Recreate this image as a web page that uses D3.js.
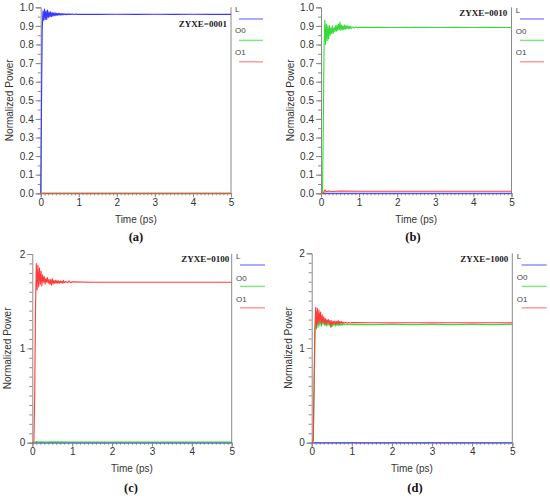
<!DOCTYPE html>
<html><head><meta charset="utf-8">
<script src="https://cdn.jsdelivr.net/npm/d3@7/dist/d3.min.js"></script>
<style>
html,body{margin:0;padding:0;background:#fff;}
svg{display:block;}
</style></head>
<body>
<svg id="chart" width="550" height="501"></svg>
<script>
// ---------- DATA ----------
const seriesNames = ["L", "O0", "O1"];
const xTicks = [0, 1, 2, 3, 4, 5];
const yTicksUnit = [0, 0.1, 0.2, 0.3, 0.4, 0.5, 0.6, 0.7, 0.8, 0.9, 1.0];
const yTicksTwo = [0, 1, 2];
const panelLetters = ["(a)", "(b)", "(c)", "(d)"];
const panelCodes = ["ZYXE=0001", "ZYXE=0010", "ZYXE=0100", "ZYXE=1000"];

const tRing = [0, 0.02, 0.04, 0.06, 0.08, 0.10, 0.12, 0.14, 0.16, 0.18,
  0.20, 0.22, 0.24, 0.26, 0.28, 0.30, 0.32, 0.34, 0.36, 0.38,
  0.40, 0.42, 0.44, 0.46, 0.48, 0.50, 0.52, 0.54, 0.56, 0.58,
  0.60, 0.62, 0.64, 0.66, 0.68, 0.70, 0.72, 0.74, 0.76, 0.78,
  0.80, 0.84, 0.88, 0.92, 0.96, 1.00, 1.5, 2.0, 2.5, 3.0,
  3.5, 4.0, 4.5, 5.0];
const tFlat = [0, 5];
const tLow = [0, 0.06, 0.1, 0.14, 0.2, 0.3, 0.5, 1, 5];

// (a) ZYXE=0001
const L_a = [0, 0.45, 0.88, 0.98, 0.93, 0.99, 0.935, 0.98, 0.935, 0.985,
  0.945, 0.975, 0.948, 0.976, 0.95, 0.972, 0.952, 0.97, 0.955, 0.97,
  0.955, 0.968, 0.957, 0.968, 0.958, 0.967, 0.958, 0.966, 0.959, 0.966,
  0.96, 0.965, 0.96, 0.965, 0.96, 0.965, 0.961, 0.964, 0.961, 0.964,
  0.962, 0.964, 0.961, 0.964, 0.962, 0.963, 0.962, 0.963, 0.962, 0.963,
  0.962, 0.963, 0.962, 0.962];
const O0_a = [0, 0];
const O1_a = [0, 0];

// (b) ZYXE=0010
const L_b = [0, 0];
const O0_b = [0, 0, 0, 0.35, 0.78, 0.93, 0.80, 0.91, 0.82, 0.90,
  0.83, 0.90, 0.85, 0.89, 0.86, 0.90, 0.86, 0.89, 0.87, 0.90,
  0.87, 0.905, 0.875, 0.91, 0.88, 0.92, 0.875, 0.905, 0.88, 0.90,
  0.88, 0.905, 0.882, 0.90, 0.884, 0.90, 0.885, 0.898, 0.886, 0.897,
  0.887, 0.895, 0.889, 0.894, 0.89, 0.893, 0.892, 0.891, 0.892, 0.891,
  0.892, 0.891, 0.892, 0.891];
const O1_b = [0, 0, 0.018, 0.008, 0.012, 0.01, 0.012, 0.011, 0.011];

// (c) ZYXE=0100
const L_c = [0, 0];
const O0_c = [0, 0, 0.012, 0.006, 0.01, 0.008, 0.009, 0.008, 0.008];
const O1_c = [0, 0, 0, 0.5, 1.4, 1.9, 1.62, 1.88, 1.65, 1.85,
  1.68, 1.82, 1.66, 1.78, 1.70, 1.76, 1.68, 1.74, 1.70, 1.75,
  1.69, 1.73, 1.68, 1.73, 1.67, 1.74, 1.68, 1.72, 1.69, 1.72,
  1.69, 1.72, 1.69, 1.715, 1.69, 1.715, 1.695, 1.71, 1.69, 1.72,
  1.695, 1.71, 1.695, 1.715, 1.695, 1.705, 1.70, 1.70, 1.70, 1.70,
  1.70, 1.70, 1.70, 1.70];

// (d) ZYXE=1000
const L_d = [0, 0];
const O0_d = [0, 0, 0.02, 0.5, 1.1, 1.38, 1.2, 1.38, 1.22, 1.36,
  1.24, 1.34, 1.23, 1.32, 1.25, 1.30, 1.24, 1.29, 1.23, 1.28,
  1.24, 1.28, 1.24, 1.27, 1.22, 1.27, 1.23, 1.265, 1.24, 1.26,
  1.23, 1.265, 1.24, 1.26, 1.235, 1.26, 1.24, 1.255, 1.242, 1.255,
  1.245, 1.252, 1.245, 1.25, 1.246, 1.249, 1.247, 1.248, 1.247, 1.248,
  1.247, 1.248, 1.247, 1.248];
const O1_d = [0, 0, 0.05, 0.7, 1.2, 1.43, 1.22, 1.42, 1.25, 1.40,
  1.28, 1.38, 1.25, 1.35, 1.27, 1.33, 1.26, 1.31, 1.25, 1.30,
  1.27, 1.30, 1.26, 1.29, 1.22, 1.29, 1.25, 1.28, 1.26, 1.285,
  1.25, 1.28, 1.26, 1.29, 1.25, 1.28, 1.26, 1.28, 1.26, 1.275,
  1.262, 1.272, 1.262, 1.27, 1.263, 1.268, 1.266, 1.265, 1.266, 1.265,
  1.266, 1.265, 1.266, 1.265];

// ---------- LAYOUT / STYLE ----------
const lineColors = {L: "#3838ff", O0: "#38dc38", O1: "#ff3c3c"};
const legendColors = {L: "#9090ff", O0: "#7ee87e", O1: "#ff9a9a"};
const axisColor = "#8a8a8a";
const textColor = "#333";

const panels = [
  {L: 40.7, R: 231, T: 7.3, B: 193.3, ymax: 1, yticks: yTicksUnit, fmt: d3.format(".1f"), minorStep: 0.05,
   series: [[tRing, L_a], [tFlat, O0_a], [tFlat, O1_a]],
   code: {x: 227, y: 26.7}, leg: {x: 235, y: 12, lx1: 239, lx2: 263, ly: 19},
   ylab: 31, letter: {x: 136, y: 240.5}},
  {L: 321, R: 511.5, T: 7.3, B: 193.3, ymax: 1, yticks: yTicksUnit, fmt: d3.format(".1f"), minorStep: 0.05,
   series: [[tFlat, L_b], [tRing, O0_b], [tLow, O1_b]],
   code: {x: 507.3, y: 16.3}, leg: {x: 515.7, y: 12.5, lx1: 520, lx2: 544, ly: 19},
   ylab: 31, letter: {x: 413, y: 240.5}},
  {L: 32.3, R: 231.7, T: 254, B: 442.7, ymax: 2, yticks: yTicksTwo, fmt: d3.format("d"), minorStep: 0.1,
   series: [[tFlat, L_c], [tLow, O0_c], [tRing, O1_c]],
   code: {x: 229.3, y: 262}, leg: {x: 236, y: 259.3, lx1: 240, lx2: 265, ly: 265},
   ylab: 24.6, letter: {x: 131, y: 491.5}},
  {L: 311.7, R: 512.3, T: 253.3, B: 442.7, ymax: 2, yticks: yTicksTwo, fmt: d3.format("d"), minorStep: 0.1,
   series: [[tFlat, L_d], [tRing, O0_d], [tRing, O1_d]],
   code: {x: 508.3, y: 262.3}, leg: {x: 516.7, y: 259, lx1: 521.7, lx2: 546.7, ly: 265},
   ylab: 23, letter: {x: 415, y: 491.5}}
];

const svg = d3.select("#chart");

panels.forEach((p, pi) => {
  const g = svg.append("g");
  const x = d3.scaleLinear().domain([0, 5]).range([p.L, p.R]);
  const y = d3.scaleLinear().domain([0, p.ymax]).range([p.B, p.T]);

  // minor ticks (y)
  const yMinor = d3.range(0, p.ymax + 1e-9, p.minorStep);
  g.append("g").attr("transform", `translate(${p.L},0)`)
    .call(d3.axisLeft(y).tickValues(yMinor).tickSize(3).tickFormat(""))
    .call(a => a.select(".domain").remove())
    .call(a => a.selectAll("line").attr("stroke", axisColor));
  // major y
  g.append("g").attr("transform", `translate(${p.L},0)`)
    .call(d3.axisLeft(y).tickValues(p.yticks).tickSize(5).tickPadding(2).tickFormat(p.fmt))
    .call(a => a.select(".domain").attr("stroke", axisColor))
    .call(a => a.selectAll("line").attr("stroke", axisColor))
    .call(a => a.selectAll("text").attr("fill", textColor)
      .style("font-family", "'Liberation Sans', Arial, sans-serif").style("font-size", "10px"));

  // minor x
  g.append("g").attr("transform", `translate(0,${p.B})`)
    .call(d3.axisBottom(x).tickValues(d3.range(0, 5.0001, 0.1)).tickSize(2).tickFormat(""))
    .call(a => a.select(".domain").remove())
    .call(a => a.selectAll("line").attr("stroke", axisColor));
  // major x
  g.append("g").attr("transform", `translate(0,${p.B})`)
    .call(d3.axisBottom(x).tickValues(xTicks).tickSize(4).tickPadding(1.5).tickFormat(d3.format("d")))
    .call(a => a.select(".domain").attr("stroke", axisColor))
    .call(a => a.selectAll("line").attr("stroke", axisColor))
    .call(a => a.selectAll("text").attr("fill", textColor)
      .style("font-family", "'Liberation Sans', Arial, sans-serif").style("font-size", "10px"));

  // right frame
  g.append("line").attr("x1", x(5)).attr("x2", x(5)).attr("y1", y(p.ymax)).attr("y2", y(0))
    .attr("stroke", axisColor).attr("stroke-width", 1);

  // series lines
  const line = d3.line().x(d => x(d[0])).y(d => y(d[1]));
  p.series.forEach((s, si) => {
    const pts = s[0].map((t, i) => [t, s[1][i]]);
    g.append("path").datum(pts).attr("d", line)
      .attr("fill", "none").attr("stroke", lineColors[seriesNames[si]])
      .attr("stroke-width", 1.1).attr("stroke-linejoin", "round");
  });

  // axis titles
  g.append("text").attr("x", (p.L + p.R) / 2).attr("y", p.B + 29.4)
    .attr("text-anchor", "middle").attr("fill", textColor)
    .style("font-family", "'Liberation Sans', Arial, sans-serif").style("font-size", "10px")
    .text("Time (ps)");
  g.append("text")
    .attr("transform", `translate(${p.L - p.ylab},${(p.T + p.B) / 2}) rotate(-90)`)
    .attr("text-anchor", "middle").attr("dy", "0.35em").attr("fill", textColor)
    .style("font-family", "'Liberation Sans', Arial, sans-serif").style("font-size", "10px")
    .text("Normalized Power");

  // code annotation
  g.append("text").attr("x", p.code.x).attr("y", p.code.y).attr("text-anchor", "end")
    .attr("fill", "#1a1a1a").style("font-family", "'Liberation Serif', 'Times New Roman', serif")
    .style("font-size", "9px").style("font-weight", "bold").text(panelCodes[pi]);

  // legend
  seriesNames.forEach((n, si) => {
    const dy = si * 21.4;
    g.append("text").attr("x", p.leg.x).attr("y", p.leg.y + dy).attr("fill", "#444")
      .style("font-family", "'Liberation Sans', Arial, sans-serif").style("font-size", "8px").text(n);
    g.append("line").attr("x1", p.leg.lx1).attr("x2", p.leg.lx2)
      .attr("y1", p.leg.ly + dy).attr("y2", p.leg.ly + dy)
      .attr("stroke", legendColors[n]).attr("stroke-width", 1.5);
  });

  // panel letter
  g.append("text").attr("x", p.letter.x).attr("y", p.letter.y).attr("text-anchor", "middle")
    .attr("fill", "#111").style("font-family", "'Liberation Serif', 'Times New Roman', serif")
    .style("font-size", "12.5px").style("font-weight", "bold").text(panelLetters[pi]);
});
</script>
</body></html>
